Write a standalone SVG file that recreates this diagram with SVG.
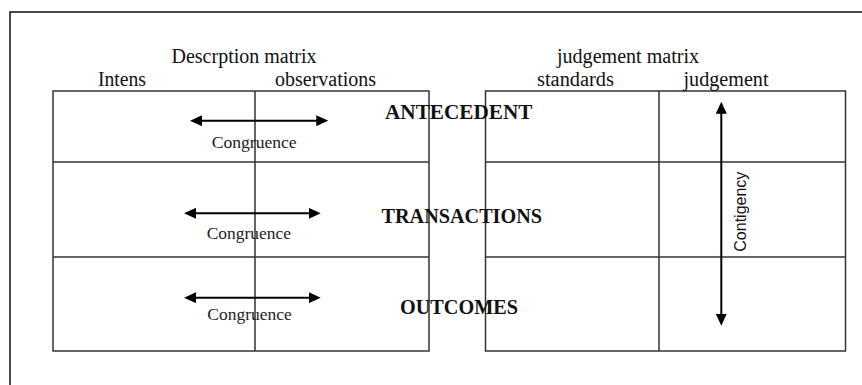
<svg xmlns="http://www.w3.org/2000/svg" width="862" height="385" viewBox="0 0 862 385">
<defs>
<style>
.frame{fill:none;stroke:#111;stroke-width:1.5}
.grid{fill:none;stroke:#333;stroke-width:1.5}
.t{font-family:"Liberation Serif","Times New Roman",serif;font-size:20px;fill:#111}
.b{font-family:"Liberation Serif","Times New Roman",serif;font-size:20px;font-weight:bold;fill:#111}
.c{font-family:"Liberation Serif","Times New Roman",serif;font-size:17px;fill:#222}
.s{font-family:"Liberation Sans",Arial,sans-serif;font-size:16px;fill:#111}
.arr{stroke:#000;stroke-width:2;fill:none;marker-start:url(#ah);marker-end:url(#ah)}
</style>
<marker id="ah" markerUnits="userSpaceOnUse" markerWidth="12" markerHeight="11" refX="2" refY="5.5" orient="auto-start-reverse">
<path d="M0,0 L12,5.5 L0,11 z" fill="#000"/>
</marker>
</defs>
<rect width="862" height="385" fill="#fff"/>
<g id="outer-frame">
<path class="frame" d="M10,385 L10,12 L862,12"/>
</g>
<g id="description-matrix">
<rect class="grid" x="53" y="91" width="376" height="260"/>
<line class="grid" x1="255" y1="91" x2="255" y2="351"/>
<line class="grid" x1="53" y1="162" x2="429" y2="162"/>
<line class="grid" x1="53" y1="257" x2="429" y2="257"/>
<text class="t" x="244" y="63" text-anchor="middle" textLength="145" lengthAdjust="spacingAndGlyphs">Descrption matrix</text>
<text class="t" x="98" y="86" textLength="48" lengthAdjust="spacingAndGlyphs">Intens</text>
<text class="t" x="275" y="86" textLength="101" lengthAdjust="spacingAndGlyphs">observations</text>
</g>
<g id="judgement-matrix">
<rect class="grid" x="485.5" y="91" width="360" height="260"/>
<line class="grid" x1="659" y1="91" x2="659" y2="351"/>
<line class="grid" x1="485.5" y1="162" x2="845.5" y2="162"/>
<line class="grid" x1="485.5" y1="257" x2="845.5" y2="257"/>
<text class="t" x="628" y="63" text-anchor="middle" textLength="142" lengthAdjust="spacingAndGlyphs">judgement matrix</text>
<text class="t" x="537" y="86" textLength="77" lengthAdjust="spacingAndGlyphs">standards</text>
<text class="t" x="683.5" y="86" textLength="85" lengthAdjust="spacingAndGlyphs">judgement</text>
</g>
<g id="row-labels">
<text class="b" x="385" y="118.5" textLength="147.5" lengthAdjust="spacingAndGlyphs">ANTECEDENT</text>
<text class="b" x="381.5" y="222.5" textLength="160.5" lengthAdjust="spacingAndGlyphs">TRANSACTIONS</text>
<text class="b" x="400" y="314" textLength="118" lengthAdjust="spacingAndGlyphs">OUTCOMES</text>
</g>
<g id="connectors">
<line class="arr" x1="200" y1="120.7" x2="318.3" y2="120.7"/>
<line class="arr" x1="194" y1="213.3" x2="310.7" y2="213.3"/>
<line class="arr" x1="194" y1="297.7" x2="310.7" y2="297.7"/>
<line class="arr" x1="721.3" y1="111.7" x2="721.3" y2="315.7"/>
</g>
<g id="connector-labels">
<text class="c" x="211.7" y="147.7" textLength="85" lengthAdjust="spacingAndGlyphs">Congruence</text>
<text class="c" x="206.7" y="239.3" textLength="84.3" lengthAdjust="spacingAndGlyphs">Congruence</text>
<text class="c" x="207.3" y="320" textLength="84.4" lengthAdjust="spacingAndGlyphs">Congruence</text>
<text class="s" transform="translate(746,251.7) rotate(-90)" textLength="80" lengthAdjust="spacingAndGlyphs">Contigency</text>
</g>
</svg>
